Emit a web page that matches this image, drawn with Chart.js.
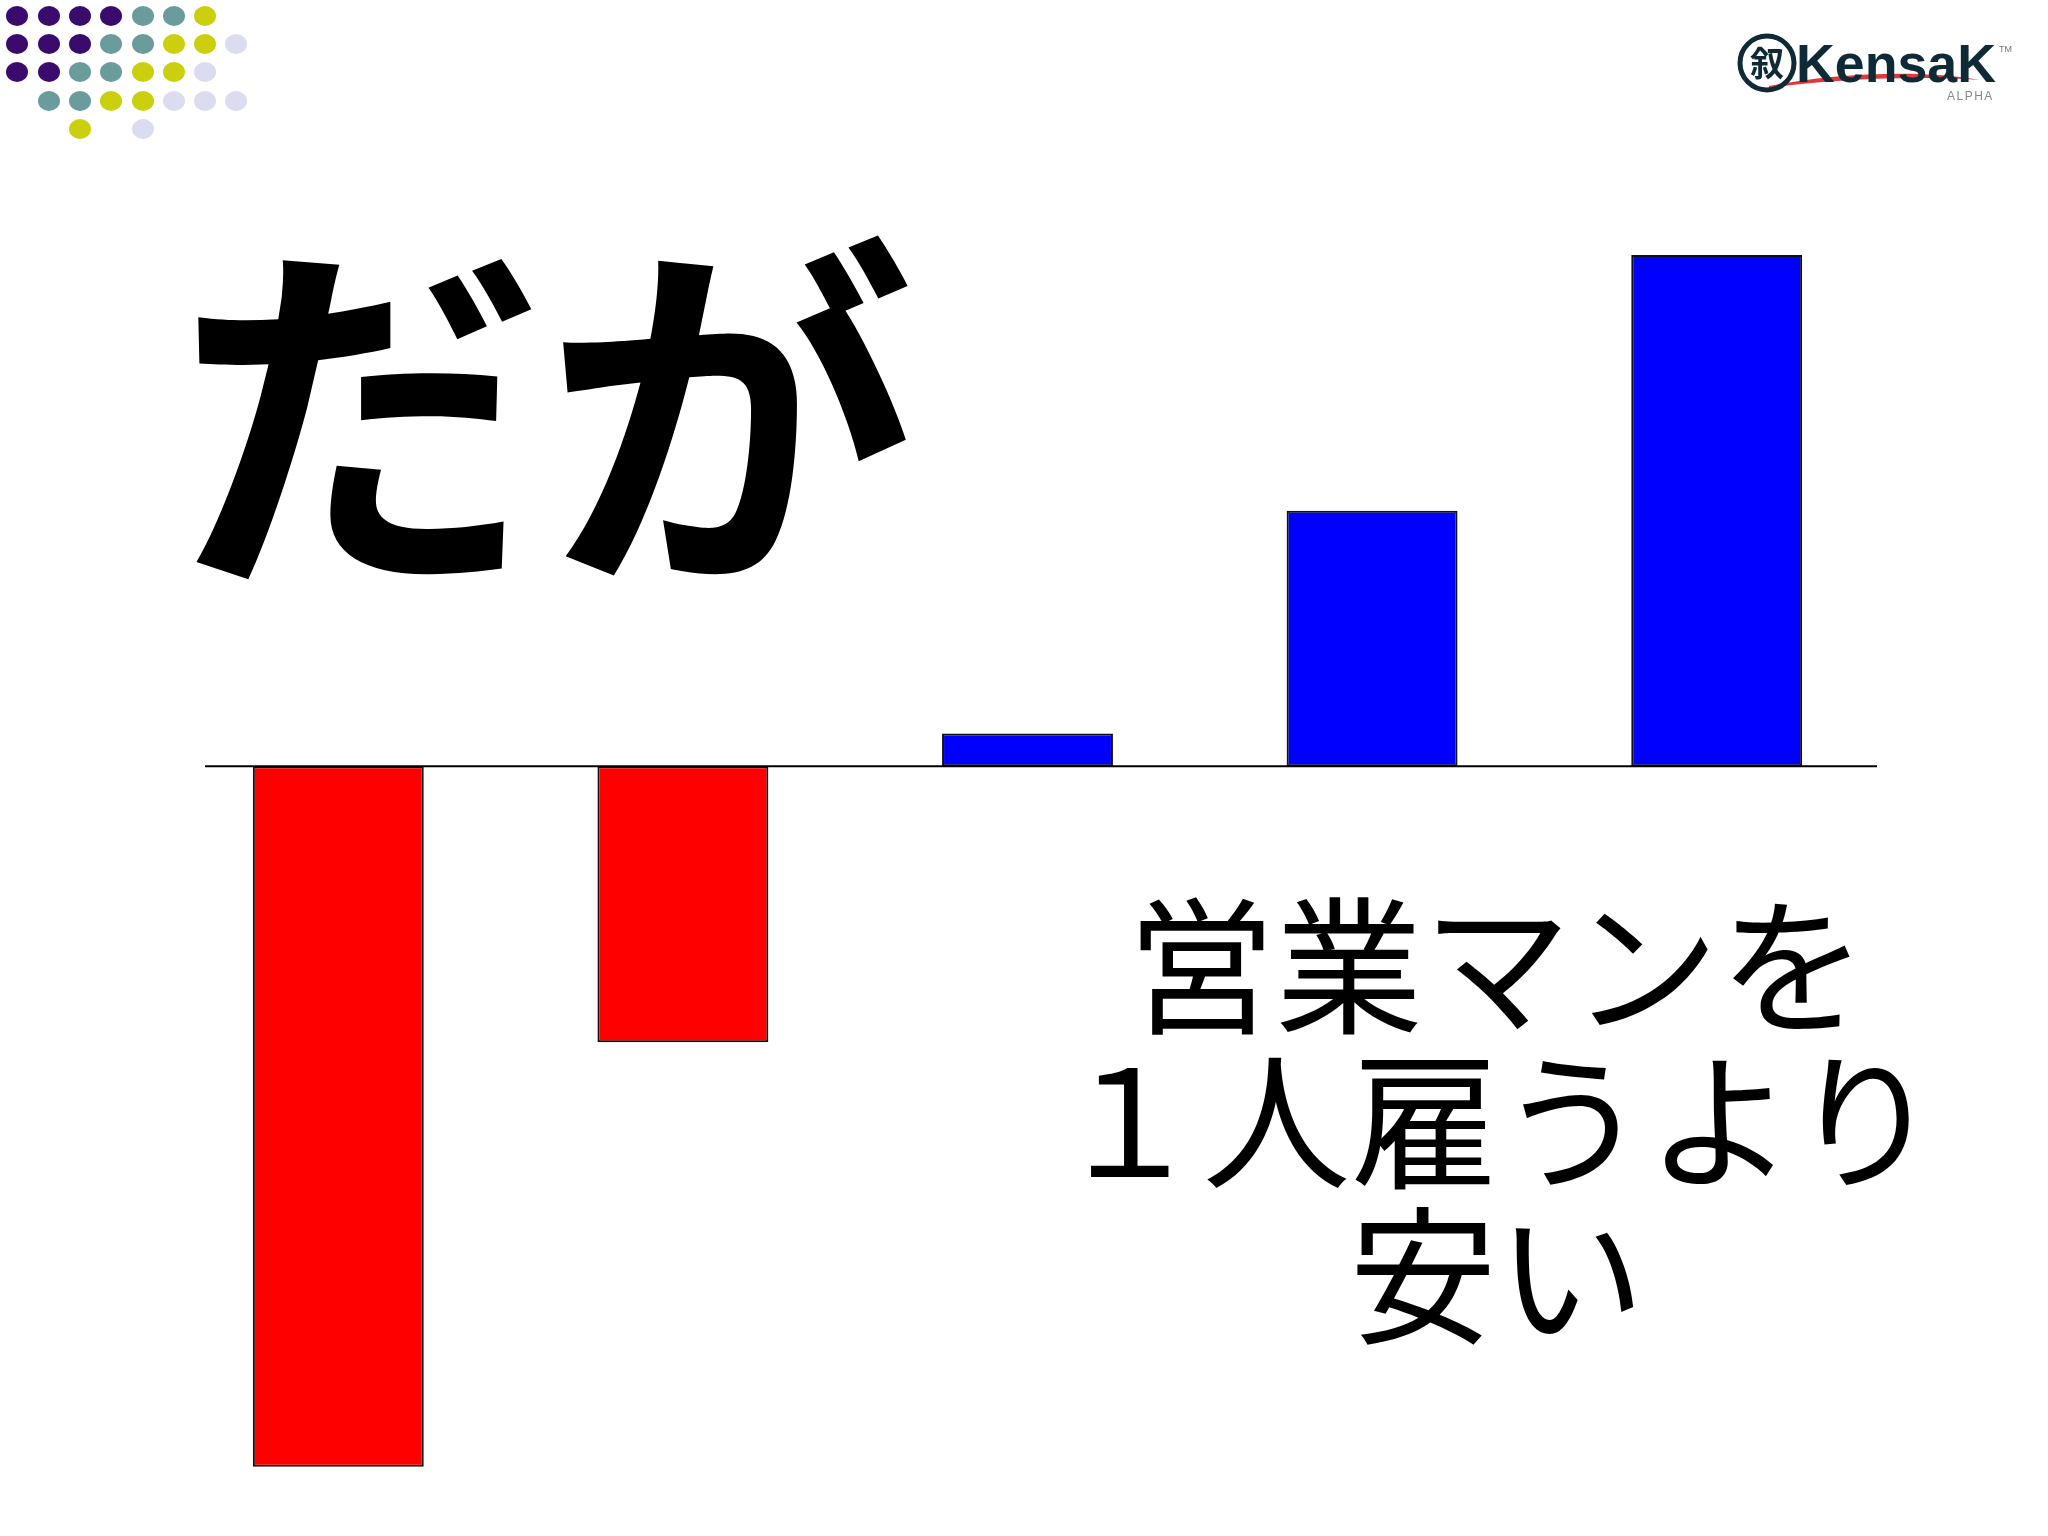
<!DOCTYPE html>
<html><head><meta charset="utf-8">
<script src="https://cdn.jsdelivr.net/npm/chart.js@4.4.1/dist/chart.umd.min.js"></script>
<style>
html,body{margin:0;padding:0;background:#fff;}
#wrap{position:relative;width:2048px;height:1536px;overflow:hidden;background:#fff;}
canvas{position:absolute;left:0;top:0;}
.dot{position:absolute;width:22px;height:20px;border-radius:50%;}
.jp{position:absolute;font-family:"Noto Sans CJK JP","Noto Sans CJK SC",sans-serif;color:#000;white-space:nowrap;}
</style></head>
<body><div id="wrap"><canvas id="c" width="2048" height="1536"></canvas></div>
<script>
// ---- data ----
const categories = ["A", "B", "C", "D", "E"];
const values = [-137, -54, 6.4, 50, 100];
const barColors = ["#ff0000", "#ff0000", "#0000ff", "#0000ff", "#0000ff"];
const headline = "だが";
const captionLines = ["営業マンを", "１人雇うより", "安い"];
const dotPattern = ["PPPPTTY.", "PPPTTYYL", "PPTTYYL.", ".TTYYLLL", "..Y.L..."];
const dotColors = {P:"#3a0b6c", T:"#6b9c9c", Y:"#cccf0e", L:"#dcdcf0"};

const wrap = document.getElementById('wrap');

// decorative dots
dotPattern.forEach((row, r) => {
  [...row].forEach((ch, c) => {
    if (ch === '.') return;
    const d = document.createElement('div');
    d.className = 'dot';
    d.style.left = (17.3 + c * 31.3 - 11) + 'px';
    d.style.top = (15.7 + r * 28.3 - 10) + 'px';
    d.style.background = dotColors[ch];
    wrap.appendChild(d);
  });
});

// logo
const logo = document.createElement('div');
logo.innerHTML = `
<svg width="300" height="90" style="position:absolute;left:0;top:0" xmlns="http://www.w3.org/2000/svg">
  <path d="M40,66 C110,52 200,50 250,60 C200,56 110,58 40,68 Z" fill="#e0393b"/>
  <circle cx="38" cy="43" r="27" fill="none" stroke="#0e2a36" stroke-width="5"/>
  <text x="38" y="56" text-anchor="middle" font-family="Noto Sans CJK JP" font-weight="bold" font-size="34" fill="#0e2a36">叙</text>
  <text x="67" y="62" font-family="Liberation Sans, Arial, sans-serif" font-weight="bold" font-size="53" textLength="200" lengthAdjust="spacingAndGlyphs" fill="#0e2a36">KensaK</text>
  <text x="283" y="32" font-family="Liberation Sans" font-size="9" fill="#777" text-anchor="end">TM</text>
  <text x="218" y="80" font-family="Liberation Sans" font-size="12" fill="#888" letter-spacing="1.5">ALPHA</text>
</svg>`;
logo.style.cssText = 'position:absolute;left:1729px;top:20px;width:300px;height:90px;';
wrap.appendChild(logo);

// headline
const h = document.createElement('div');
h.className = 'jp';
h.textContent = headline;
h.style.cssText += 'left:545px;top:395px;transform:translate(-50%,-50%);font-size:370px;line-height:1;font-weight:bold;';
wrap.appendChild(h);

// caption
const cap = document.createElement('div');
cap.className = 'jp';
cap.innerHTML = captionLines.join('<br>');
cap.style.cssText += 'left:1497px;top:1112px;transform:translate(-50%,-50%);font-size:148px;line-height:155px;text-align:center;';
wrap.appendChild(cap);

// zero line plugin (inset is a style option)
const zeroLine = {
  id: 'zeroLine',
  afterDatasetsDraw(chart, args, opts) {
    const y = chart.scales.y.getPixelForValue(0);
    const ctx = chart.ctx;
    ctx.save();
    ctx.strokeStyle = '#000';
    ctx.lineWidth = 2;
    ctx.beginPath();
    ctx.moveTo(chart.chartArea.left + opts.insetLeft, y);
    ctx.lineTo(chart.chartArea.right - opts.insetRight, y);
    ctx.stroke();
    ctx.restore();
  }
};

new Chart(document.getElementById('c'), {
  type: 'bar',
  data: {
    labels: categories,
    datasets: [{
      data: values,
      backgroundColor: barColors,
      borderColor: '#111',
      borderWidth: 2,
      borderSkipped: false,
      categoryPercentage: 1,
      barPercentage: 0.496
    }]
  },
  options: {
    responsive: false,
    animation: false,
    devicePixelRatio: 1,
    layout: {padding: {left: 166, right: 159, top: 255, bottom: 54}},
    plugins: {legend: {display: false}, tooltip: {enabled: false}, zeroLine: {insetLeft: 39, insetRight: 12}},
    scales: {
      x: {display: false},
      y: {display: false, min: -140, max: 100}
    }
  },
  plugins: [zeroLine]
});
</script></body></html>
